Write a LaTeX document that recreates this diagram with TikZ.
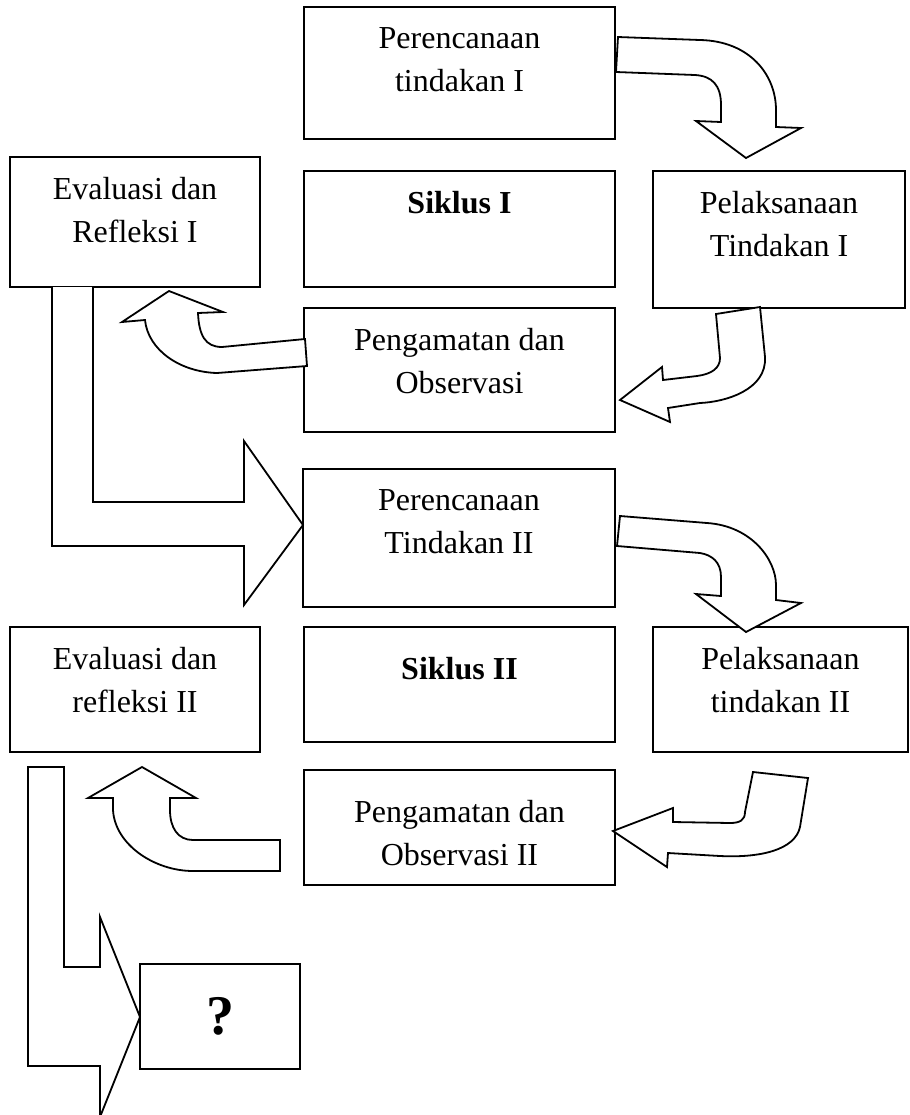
\documentclass[tikz,border=0pt]{standalone}
\usepackage{fontspec}
\setmainfont{Liberation Serif}

\begin{document}
\begin{tikzpicture}[
  x=0.5pt, y=-0.5pt,
  line width=0.9pt,
  box/.style={draw=black, anchor=north west, inner sep=0pt, outer sep=0pt},
  boxtext/.style={anchor=north, yshift=-9.7pt, inner sep=0pt, align=center,
    font=\fontsize{16}{21.5}\selectfont},
  blockarrow/.style={draw=black, fill=white, line join=miter}
]
  \useasboundingbox (0,0) rectangle (910,1115);

  % siklus I
  \node[box, minimum width=155.5pt, minimum height=66pt,
    label={[boxtext]north:{Perencanaan\\tindakan I}}] (plan1) at (304,7) {};
  \node[box, minimum width=125pt, minimum height=65pt,
    label={[boxtext]north:{Evaluasi dan\\Refleksi I}}] (eval1) at (10,157) {};
  \node[box, minimum width=155.5pt, minimum height=58pt,
    label={[boxtext]north:{\textbf{Siklus I}}}] (cycle1) at (304,171) {};
  \node[box, minimum width=126pt, minimum height=68.5pt,
    label={[boxtext]north:{Pelaksanaan\\Tindakan I}}] (act1) at (653,171) {};
  \node[box, minimum width=155.5pt, minimum height=62pt,
    label={[boxtext]north:{Pengamatan dan\\Observasi}}] (obs1) at (304,308) {};

  % siklus II
  \node[box, minimum width=156pt, minimum height=69pt,
    label={[boxtext]north:{Perencanaan\\Tindakan II}}] (plan2) at (303,469) {};
  \node[box, minimum width=125pt, minimum height=62.5pt,
    label={[boxtext]north:{Evaluasi dan\\refleksi II}}] (eval2) at (10,627) {};
  \node[box, minimum width=155.5pt, minimum height=57.5pt,
    label={[boxtext, yshift=-5pt]north:{\textbf{Siklus II}}}] (cycle2) at (304,627) {};
  \node[box, minimum width=127.5pt, minimum height=62.5pt,
    label={[boxtext]north:{Pelaksanaan\\tindakan II}}] (act2) at (653,627) {};
  \node[box, minimum width=155.5pt, minimum height=57.5pt,
    label={[boxtext, yshift=-5pt]north:{Pengamatan dan\\Observasi II}}] (obs2) at (304,770) {};

  \node[box, minimum width=80pt, minimum height=52.5pt,
    font=\fontsize{28}{30}\selectfont\bfseries] (next) at (140,964) {?};

  % plan -> act
  \draw[blockarrow] (618,37) -- (700,40) .. controls (750,41) and (776,75) .. (776,110)
    -- (776,127) -- (801,128) -- (746,158) -- (696,121) -- (721,122) -- (721,105)
    .. controls (721,85) and (712,76) .. (695,75) -- (616,72) -- cycle;
  \draw[blockarrow] (620,516) -- (707,523) .. controls (752,526) and (776,560) .. (776,585)
    -- (776,600) -- (801,603) -- (746,632) -- (696,594) -- (721,596) -- (721,577)
    .. controls (721,562) and (712,555) .. (700,553) -- (617,546) -- cycle;

  % act -> obs
  \draw[blockarrow] (716,314) -- (760,307) -- (765,357) .. controls (767,390) and (725,402) .. (700,403)
    -- (668,408) -- (670,422) -- (620,400) -- (662,367) -- (663,380) -- (697,376)
    .. controls (712,374) and (720,368) .. (720,358) -- cycle;
  \draw[blockarrow] (753,772) -- (808,778) -- (800,827) .. controls (795,850) and (760,858) .. (720,856)
    -- (668,853) -- (667,867) -- (613,831) -- (673,808) -- (673,822) -- (730,823)
    .. controls (740,823) and (745,820) .. (745,812) -- cycle;

  % obs -> eval
  \draw[blockarrow] (305,339) -- (222,347) .. controls (205,347) and (199,335) .. (198,313)
    -- (223,312) -- (169,291) -- (122,322) -- (145,320)
    .. controls (148,350) and (180,372) .. (217,373) -- (307,366) -- cycle;
  \draw[blockarrow] (280,840) -- (193,840) .. controls (178,840) and (170,828) .. (170,810)
    -- (170,798) -- (196,798) -- (142,767) -- (88,798) -- (113,798) -- (113,810)
    .. controls (115,845) and (155,871) .. (193,871) -- (280,871) -- cycle;

  % eval -> next plan
  \draw[blockarrow] (eval1.south -| 93,0) -- (93,502) -- (244,502) -- (244,441) -- (plan2.west |- 0,525)
    -- (244,605) -- (244,546) -- (52,546) -- (eval1.south -| 52,0);
  \draw[blockarrow] (28,767) -- (64,767) -- (64,967) -- (100,967) -- (100,917) -- (next.west |- 0,1017)
    -- (100,1117) -- (100,1066) -- (28,1066) -- cycle;
\end{tikzpicture}
\end{document}
